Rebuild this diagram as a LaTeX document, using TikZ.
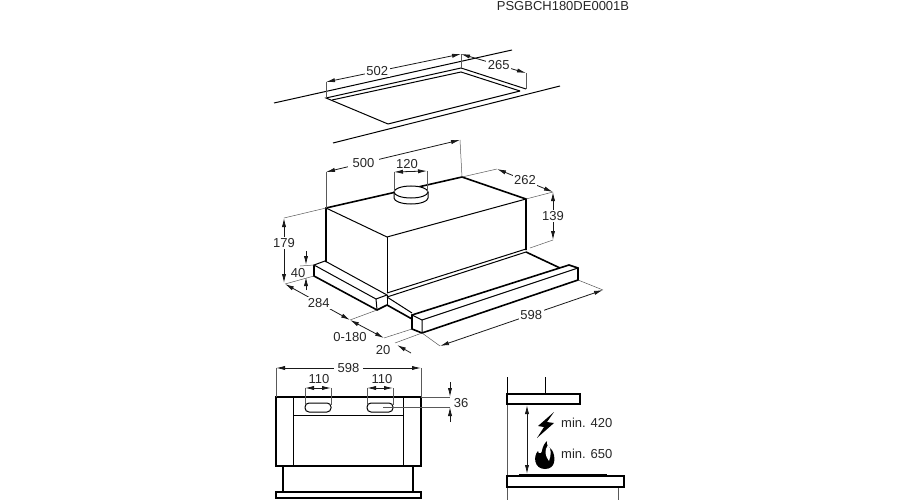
\documentclass[tikz,border=0pt]{standalone}
\usepackage{fontspec}
\setmainfont{Liberation Sans}
\usetikzlibrary{
    calc,
    arrows.meta
}
\tikzset{
    thickline/.style={line width=1.6pt, black, line join=miter},
    midline/.style={line width=1pt, black},
    extline/.style={line width=0.5pt, black!65},
    dimline/.style={line width=0.8pt, black!90, {Latex[length=9pt,width=4.2pt]}-{Latex[length=9pt,width=4.2pt]}},
    dimhalf/.style={line width=0.8pt, black!90, -{Latex[length=9pt,width=4.2pt]}},
    dimtext/.style={font=\fontsize{13}{14}\selectfont, fill=white, inner sep=1.5pt, text=black!85},
    plaintext/.style={font=\fontsize{13}{14}\selectfont, inner sep=0pt, text=black!85}
}
\begin{document}
\begin{tikzpicture}[x=1pt,y=-1pt]
    \useasboundingbox (0,0) rectangle (900,500);
    \node[plaintext] (code) at (563,6) {PSGBCH180DE0001B};
    % cut-out in the wall
    \coordinate (cutA) at (326,98);
    \coordinate (cutB) at (461,68);
    \coordinate (cutC) at (526,89);
    \coordinate (cutD) at (388,124);
    \coordinate (cutE) at (461,72);
    \coordinate (cutF) at (520,91);
    \coordinate (dimA) at (326,82);
    \coordinate (dimB) at (461,54);
    \coordinate (dimC) at (526,73);
    \draw[midline] (274,103) -- (512,50);
    \draw[midline] (333,143) -- (560,86);
    \draw[midline] (cutD) -- (cutA) -- (cutB) -- (cutC);
    \draw[midline] (332,100) -- (cutE) -- (cutF);
    \draw[midline] (cutD) -- (cutF);
    \draw[extline] (cutA) -- (dimA);
    \draw[extline] (cutB) -- (dimB);
    \draw[extline] (cutC) -- (dimC);
    \draw[dimline] (dimA) -- (dimB) node[dimtext,pos=0.38] (l502) {502};
    \draw[dimline] (dimB) -- (dimC) node[dimtext,pos=0.58] (l265) {265};
    % hood body
    \coordinate (hoodA) at (326,208);
    \coordinate (hoodB) at (462,177);
    \coordinate (hoodC) at (526,199);
    \coordinate (hoodD) at (387,237);
    \coordinate (hoodE) at (326,262);
    \coordinate (hoodF) at (387,293);
    \coordinate (hoodG) at (526,250);
    \draw[thickline] (hoodE) -- (hoodA) -- (hoodB) -- (hoodC) -- (hoodG);
    \draw[midline] (hoodA) -- (hoodD) -- (hoodC);
    \draw[midline] (hoodD) -- (hoodF);
    % duct
    \fill[white] (394,192) rectangle (428,199);
    \draw[midline] (394,192) -- (394,198) arc[start angle=180,end angle=360,x radius=17,y radius=-6] -- (428,192);
    \draw[midline,fill=white] (411,192) ellipse[x radius=17,y radius=6];
    \coordinate (ductL) at (394,172);
    \coordinate (ductR) at (427,171);
    \draw[extline] (ductL) -- (394,192);
    \draw[extline] (ductR) -- (427,192);
    \draw[dimline] (ductL) -- (ductR);
    \node[plaintext] (l120) at (407,164) {120};
    % side strip
    \coordinate (lipA) at (314,265);
    \coordinate (lipB) at (325,261);
    \coordinate (lipC) at (387,295);
    \coordinate (lipD) at (376,299);
    \coordinate (lipE) at (314,276);
    \coordinate (lipF) at (377,310);
    \coordinate (lipG) at (387,305);
    \draw[midline] (lipA) -- (lipB) -- (lipC) -- (lipD) -- cycle;
    \draw[midline] (lipD) -- (lipF);
    \draw[midline] (lipC) -- (lipG);
    \draw[thickline] (lipA) -- (lipE) -- (lipF) -- (lipG);
    % sliding tray
    \coordinate (drawA) at (412,315);
    \coordinate (drawB) at (569,265);
    \coordinate (drawC) at (578,268);
    \coordinate (drawD) at (422,320);
    \coordinate (drawE) at (412,329);
    \coordinate (drawF) at (422,333);
    \coordinate (drawG) at (578,280);
    \draw[midline] (387,293) -- (526,249);
    \draw[midline] (387,297) -- (526,252);
    \draw[midline] (387,297) -- (412,313);
    \draw[thickline] (lipG) -- (412,319);
    \draw[thickline] (526,252) -- (560,268);
    \draw[thickline] (drawA) -- (drawB) -- (drawC) -- (drawG) -- (drawF) -- (drawE) -- cycle;
    \draw[midline] (drawD) -- (drawC);
    \draw[midline] (drawA) -- (drawD) -- (drawF);
    % dimensions, side
    \coordinate (d179A) at (284,218);
    \coordinate (d179B) at (285,284);
    \coordinate (d284A) at (350,320);
    \coordinate (d180B) at (384,338);
    \coordinate (d20A) at (395,343);
    \coordinate (d20B) at (397,345);
    \coordinate (d598A) at (440,346);
    \coordinate (d598B) at (603,290);
    \coordinate (d262A) at (497,169);
    \coordinate (d262B) at (553,192);
    \coordinate (d139B) at (553,240);
    \coordinate (d500A) at (326,172);
    \coordinate (d500B) at (460,140);
    \draw[extline] (hoodA) -- (d500A);
    \draw[extline] (hoodB) -- (d500B);
    \draw[dimline] (d500A) -- (d500B) node[dimtext,pos=0.28,inner xsep=5pt] (l500) {500};
    \draw[extline] (hoodA) -- (d179A);
    \draw[extline] (lipE) -- (d179B);
    \draw[extline] (lipA) -- (300,266);
    \draw[dimline] (284,218) -- (284,283);
    \node[dimtext] (l179) at (284,243) {179};
    \draw[dimhalf] (306,251) -- (306,265);
    \draw[dimhalf] (306,290) -- (306,277);
    \node[dimtext,inner sep=0.5pt] (l40) at (298,273) {40};
    \draw[extline] (lipF) -- (d284A);
    \draw[extline] (drawE) -- (d180B);
    \draw[extline] (drawF) -- (d598A);
    \draw[extline] (drawF) -- (d20A);
    \draw[dimline] (d179B) -- (d284A) node[dimtext,pos=0.52] (l284) {284};
    \draw[dimline] (d284A) -- (d180B);
    \node[plaintext] (l180) at (350,337) {0-180};
    \draw[dimhalf] (411,353) -- (d20B);
    \node[plaintext] (l20) at (383,350) {20};
    \draw[extline] (drawG) -- (d598B);
    \draw[dimline] (d598A) -- (d598B) node[dimtext,pos=0.56] (l598) {598};
    \draw[extline] (hoodB) -- (d262A);
    \draw[extline] (hoodC) -- (d262B);
    \draw[dimline] (d262A) -- (d262B) node[dimtext,midway] (l262) {262};
    \draw[extline] (530,248) -- (d139B);
    \draw[dimline] (d262B) -- (d139B) node[dimtext,midway] (l139) {139};
    % front view
    \coordinate (frA) at (276,397);
    \coordinate (frB) at (421,397);
    \coordinate (frC) at (276,368);
    \coordinate (frD) at (421,368);
    \draw[thickline] (frA) rectangle (421,466);
    \draw[midline] (293,397) -- (293,466);
    \draw[midline] (403,397) -- (403,466);
    \draw[midline] (293,415) -- (403,415);
    \draw[thickline] (283,466) -- (283,492);
    \draw[thickline] (413,466) -- (413,492);
    \draw[thickline] (276,492) rectangle (421,498);
    \draw[midline,rounded corners=4pt] (305,403) rectangle (331,412);
    \draw[midline,rounded corners=4pt] (367,403) rectangle (393,412);
    \draw[extline] (frA) -- (frC);
    \draw[extline] (frB) -- (frD);
    \draw[dimline] (frC) -- (frD) node[dimtext,pos=0.5,inner xsep=4pt] (l598b) {598};
    \draw[extline] (305,388) -- (305,405);
    \draw[extline] (331,388) -- (331,405);
    \draw[extline] (367,388) -- (367,405);
    \draw[extline] (393,388) -- (393,405);
    \draw[dimline] (305,388) -- (331,388);
    \draw[dimline] (367,388) -- (393,388);
    \node[plaintext] (l110a) at (319,379) {110};
    \node[plaintext] (l110b) at (382,379) {110};
    \draw[extline] (frB) -- (450,397);
    \draw[extline] (383,407) -- (450,407);
    \draw[dimhalf] (450,382) -- (450,397);
    \draw[dimhalf] (450,422) -- (450,407);
    \node[plaintext] (l36) at (461,403) {36};
    % clearance view
    \draw[midline] (507,377) -- (507,394);
    \draw[midline] (545,377) -- (545,394);
    \draw[extline] (507,404) -- (507,476);
    \draw[extline] (507,487) -- (507,500);
    \draw[extline] (618,487) -- (618,500);
    \draw[thickline] (507,394) rectangle (580,404);
    \draw[thickline] (507,476) rectangle (624,487);
    \draw[line width=1.8pt] (519,475) -- (607,475);
    \draw[dimline] (527,405) -- (527,474);
    \fill[black] (554,412) -- (538,426) -- (544,427) -- (537,438) -- (554,423) -- (547,422) -- cycle;
    \fill[black] (547,441) .. controls (541,447) and (543,451) .. (541,453) .. controls (539,455) and (538,452) .. (538,451)
        .. controls (533,456) and (534,469) .. (545,469) .. controls (556,469) and (556,457) .. (552,450)
        .. controls (549,447) and (546,446) .. (547,441) -- cycle;
    \fill[white] (548,445) .. controls (544,450) and (545,456) .. (549,461) .. controls (551,455) and (552,450) .. (548,445) -- cycle;
    \node[plaintext,anchor=west] (l420) at (561,423) {min. 420};
    \node[plaintext,anchor=west] (l650) at (561,454) {min. 650};
\end{tikzpicture}
\end{document}
